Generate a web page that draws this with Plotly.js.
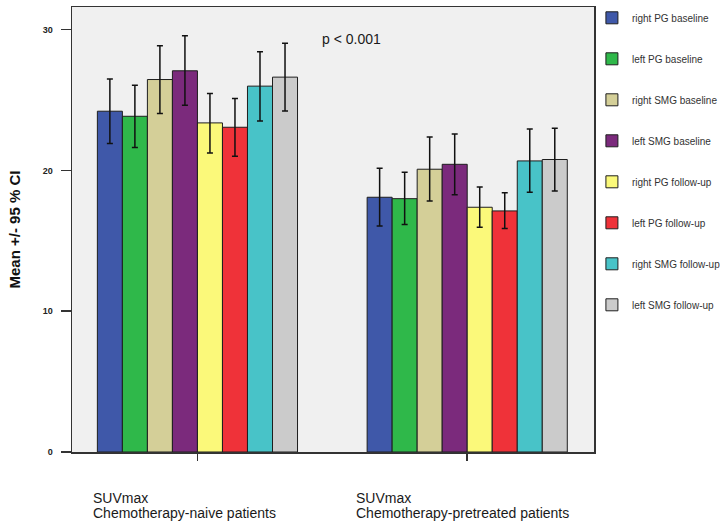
<!DOCTYPE html>
<html>
<head>
<meta charset="utf-8">
<script src="https://cdn.plot.ly/plotly-3.0.1.min.js"></script>
<style>
html,body{margin:0;padding:0;background:#fff;}
#chart{width:721px;height:526px;}
</style>
</head>
<body>
<div id="chart"></div>
<script>
// Categories (groups on the x axis)
var categories = ['Chemotherapy-naive patients', 'Chemotherapy-pretreated patients'];
var categoryLine1 = ['SUVmax', 'SUVmax'];
var categoryLine2 = ['Chemotherapy-naive patients', 'Chemotherapy-pretreated patients'];

// Series
var seriesNames = ['right PG baseline', 'left PG baseline', 'right SMG baseline', 'left SMG baseline',
                   'right PG follow-up', 'left PG follow-up', 'right SMG follow-up', 'left SMG follow-up'];
var seriesColors = ['#3f58a9', '#2fb84a', '#d4cf98', '#7b2a7c', '#fbf97a', '#ef3239', '#48c3c8', '#cbcbcb'];

// Means and 95% CI bounds, chemotherapy-naive patients (per series)
var meanNaive  = [24.20, 23.84, 26.45, 27.07, 23.37, 23.06, 25.98, 26.62];
var upperNaive = [26.49, 26.05, 28.85, 29.55, 25.46, 25.11, 28.42, 29.03];
var lowerNaive = [21.91, 21.62, 24.04, 24.62, 21.24, 21.00, 23.51, 24.22];

// Means and 95% CI bounds, chemotherapy-pretreated patients (per series)
var meanPre  = [18.09, 17.99, 20.08, 20.43, 17.38, 17.12, 20.67, 20.77];
var upperPre = [20.15, 19.86, 22.36, 22.59, 18.82, 18.41, 22.94, 22.99];
var lowerPre = [16.05, 16.15, 17.83, 18.26, 15.96, 15.87, 18.44, 18.54];

var yTicks = [0, 10, 20, 30];
var pText = 'p < 0.001';

var FONT = 'Arial, "Liberation Sans", sans-serif';

var traces = seriesNames.map(function (name, i) {
  var means = [meanNaive[i], meanPre[i]];
  var ups = [upperNaive[i], upperPre[i]];
  var lows = [lowerNaive[i], lowerPre[i]];
  return {
    type: 'bar',
    name: name,
    legendgroup: 'g' + i,
    x: categories,
    y: means,
    marker: {color: seriesColors[i], line: {color: '#1e1e1e', width: 1}},
    error_y: {
      type: 'data',
      symmetric: false,
      array: ups.map(function (u, k) { return u - means[k]; }),
      arrayminus: lows.map(function (l, k) { return means[k] - l; }),
      color: '#111',
      thickness: 1.5,
      width: 3
    },
    hoverinfo: 'skip'
  };
});

var annotations = [];
categories.forEach(function (c, k) {
  var shift = k === 0 ? -106 : -113;
  annotations.push({
    xref: 'x', yref: 'paper', x: c, y: 0, xanchor: 'left', yanchor: 'middle',
    xshift: shift, yshift: -45.5, showarrow: false, align: 'left',
    text: categoryLine1[k], font: {family: FONT, size: 14, color: '#1a1a1a'}
  });
  annotations.push({
    xref: 'x', yref: 'paper', x: c, y: 0, xanchor: 'left', yanchor: 'middle',
    xshift: shift, yshift: -61, showarrow: false, align: 'left',
    text: categoryLine2[k], font: {family: FONT, size: 14, color: '#1a1a1a'}
  });
});
annotations.push({
  xref: 'paper', yref: 'y', x: 0.475, y: 29.3, xanchor: 'left', yanchor: 'middle',
  showarrow: false, text: pText, font: {family: FONT, size: 14, color: '#1a1a1a'}
});

var layout = {
  width: 721, height: 526,
  margin: {l: 72, r: 127, t: 7, b: 74, autoexpand: false},
  paper_bgcolor: '#ffffff',
  plot_bgcolor: '#f0f0f0',
  barmode: 'group',
  bargap: 0.258,
  bargroupgap: 0,
  font: {family: FONT, color: '#222'},
  showlegend: true,
  legend: {
    x: 0.996, xanchor: 'left', y: 1.0083, yanchor: 'top',
    maxheight: 520,
    bgcolor: 'rgba(0,0,0,0)',
    font: {family: FONT, size: 10, color: '#333'},
    tracegroupgap: 22,
    traceorder: 'grouped'
  },
  xaxis: {
    type: 'category',
    range: [-0.465, 1.47],
    showticklabels: false,
    ticks: 'outside', ticklen: 7, tickwidth: 1.5, tickcolor: '#333',
    showline: true, mirror: true, linecolor: '#333', linewidth: 1.5,
    showgrid: false, zeroline: false, fixedrange: true
  },
  yaxis: {
    range: [0, 31.6],
    tickvals: yTicks,
    ticktext: yTicks.map(String),
    ticks: 'outside', ticklen: 10, tickwidth: 1.5, tickcolor: '#333',
    ticklabelstandoff: 6,
    tickfont: {family: FONT, size: 9, color: '#222', weight: 'bold'},
    showline: true, mirror: true, linecolor: '#333', linewidth: 1.5,
    showgrid: false, zeroline: false, fixedrange: true,
    title: {text: 'Mean +/- 95 % CI', font: {family: FONT, size: 15, color: '#111', weight: 'bold'}, standoff: 18}
  },
  annotations: annotations
};

Plotly.newPlot('chart', traces, layout, {displayModeBar: false, staticPlot: true});
</script>
</body>
</html>
